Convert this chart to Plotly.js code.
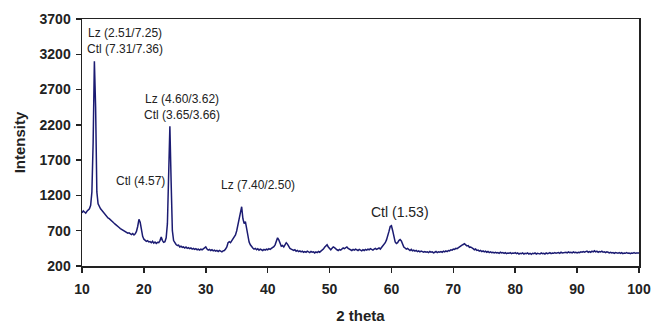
<!DOCTYPE html>
<html>
<head>
<meta charset="utf-8">
<script src="https://cdn.plot.ly/plotly-3.0.1.min.js"></script>
<style>html,body{margin:0;padding:0;background:#fff;}#chart{width:652px;height:331px;}</style>
</head>
<body>
<div id="chart"></div>
<script>
// 2-theta sampling: start and step (degrees)
const twoThetaStart = 10;
const twoThetaStep = 0.2;

// Intensity, one value per 0.2 degree, 10 .. 100
const intensity = [
  955, 980, 965, 950, 975,   990, 1010, 1060, 1250, 1950,      // 10-11.8
  3100, 2450, 1250, 1080, 1040,  1010, 990, 965, 950, 915,     // 12-13.8
  905, 880, 870, 850, 835,   815, 805, 790, 770, 760,          // 14-15.8
  745, 730, 720, 715, 695,   690, 680, 665, 670, 650,          // 16-17.8
  645, 660, 640, 655, 690,   760, 860, 820, 700, 620,          // 18-19.8
  580, 565, 550, 560, 540,   545, 530, 550, 525, 540,          // 20-21.8
  520, 535, 530, 560, 610,   560, 535, 545, 600, 800,          // 22-23.8
  1500, 2180, 1400, 700, 560,  520, 505, 490, 495, 470,        // 24-25.8
  480, 465, 470, 455, 470,   450, 460, 445, 455, 440,          // 26-27.8
  450, 435, 445, 430, 440,   425, 440, 430, 445, 450,          // 28-29.8
  470, 440, 425, 435, 420,   430, 415, 425, 410, 420,          // 30-31.8
  405, 420, 410, 400, 415,   420, 440, 470, 530, 545,          // 32-33.8
  530, 560, 575, 600, 640,   700, 790, 880, 960, 1040,         // 34-35.8
  870, 800, 830, 720, 620,   540, 500, 470, 455, 440,          // 36-37.8
  450, 430, 445, 425, 440,   430, 420, 435, 425, 440,          // 38-39.8
  430, 445, 435, 450, 460,   475, 500, 560, 600, 570,          // 40-41.8
  510, 480, 490, 470, 500,   530, 510, 470, 450, 440,          // 42-43.8
  430, 420, 430, 410, 420,   405, 415, 400, 410, 395,          // 44-45.8
  405, 395, 410, 400, 390,   405, 395, 400, 385, 400,          // 46-47.8
  390, 405, 395, 410, 420,   440, 465, 480, 500, 470,          // 48-49.8
  440, 430, 450, 470, 460,   440, 430, 420, 435, 425,          // 50-51.8
  440, 455, 445, 460, 470,   450, 440, 430, 420, 435,          // 52-53.8
  425, 440, 430, 420, 435,   425, 415, 430, 420, 435,          // 54-55.8
  425, 440, 430, 445, 435,   425, 440, 450, 435, 445,          // 56-57.8
  455, 440, 460, 475, 500,   530, 570, 620, 690, 760,          // 58-59.8
  770, 700, 600, 540, 520,   530, 560, 575, 555, 500,          // 60-61.8
  470, 455, 440, 450, 430,   420, 435, 415, 425, 410,          // 62-63.8
  420, 405, 415, 400, 410,   400, 395, 405, 395, 400,          // 64-65.8
  390, 405, 395, 400, 385,   395, 405, 390, 400, 395,          // 66-67.8
  405, 395, 410, 400, 415,   405, 420, 415, 430, 425,          // 68-69.8
  440, 435, 450, 445, 460,   470, 480, 495, 505, 515,          // 70-71.8
  500, 485, 490, 465, 470,   450, 445, 430, 440, 420,          // 72-73.8
  425, 410, 420, 405, 415,   400, 410, 395, 405, 390,          // 74-75.8
  400, 390, 395, 385, 395,   385, 390, 380, 395, 385,          // 76-77.8
  390, 380, 390, 375, 385,   380, 390, 375, 385, 380,          // 78-79.8
  390, 375, 385, 370, 380,   375, 385, 370, 380, 375,          // 80-81.8
  385, 370, 380, 365, 380,   375, 385, 370, 380, 375,          // 82-83.8
  370, 385, 375, 380, 370,   385, 375, 380, 390, 375,          // 84-85.8
  385, 380, 390, 380, 385,   390, 380, 395, 385, 390,          // 86-87.8
  385, 395, 385, 400, 390,   395, 385, 400, 390, 395,          // 88-89.8
  385, 395, 390, 400, 395,   405, 395, 400, 410, 395,          // 90-91.8
  405, 395, 410, 400, 415,   400, 410, 395, 405, 400,          // 92-93.8
  410, 395, 400, 390, 400,   395, 385, 395, 385, 390,          // 94-95.8
  380, 390, 385, 380, 390,   380, 390, 375, 385, 380,          // 96-97.8
  390, 380, 385, 375, 385,   380, 390, 380, 385, 380,          // 98-99.8
  385                                                          // 100
];

// Peak labels
const peakLabels = ["Lz (2.51/7.25)<br>Ctl (7.31/7.36)", "Lz (4.60/3.62)<br>Ctl (3.65/3.66)", "Ctl (4.57)", "Lz (7.40/2.50)", "Ctl (1.53)"];
const peakLabelX = [10.55, 26.2, 19.5, 38.4, 61.4];
const peakLabelY = [3388, 2453, 1404, 1348, 965];

const xTicks = [10, 20, 30, 40, 50, 60, 70, 80, 90, 100];
const yTicks = [200, 700, 1200, 1700, 2200, 2700, 3200, 3700];

const sans = "Liberation Sans, Arial, sans-serif";

const annXAnchor = ["left", "center", "center", "center", "center"];
const annotations = peakLabels.map((t, i) => ({
  x: peakLabelX[i], y: peakLabelY[i], xref: "x", yref: "y",
  text: t, showarrow: false, xanchor: annXAnchor[i], yanchor: "middle",
  align: "center",
  font: {family: sans, size: i === 4 ? 14 : 12, color: "#222"}
}));

const trace = {
  type: "scatter", mode: "lines",
  x0: twoThetaStart, dx: twoThetaStep, y: intensity,
  line: {color: "#1b1b72", width: 1.5},
  hoverinfo: "skip"
};

const layout = {
  width: 652, height: 331,
  margin: {l: 82, r: 13, t: 19, b: 65},
  paper_bgcolor: "#fff", plot_bgcolor: "#fff",
  showlegend: false,
  font: {family: sans, color: "#222"},
  xaxis: {
    range: [10, 100], tickvals: xTicks, ticktext: xTicks.map(String),
    ticks: "outside", ticklen: 5, tickwidth: 1.5, tickcolor: "#222",
    ticklabelstandoff: 5,
    showline: true, linecolor: "#222", linewidth: 1.5, mirror: true,
    showgrid: false, zeroline: false,
    tickfont: {family: sans, size: 14, color: "#222", weight: "bold"},
    title: {text: "2 theta", font: {family: sans, size: 15, color: "#222", weight: "bold"}, standoff: 14}
  },
  yaxis: {
    range: [200, 3700], tickvals: yTicks, ticktext: yTicks.map(String),
    ticks: "outside", ticklen: 5, tickwidth: 1.5, tickcolor: "#222",
    ticklabelstandoff: 2,
    showline: true, linecolor: "#222", linewidth: 1.5, mirror: true,
    showgrid: false, zeroline: false,
    tickfont: {family: sans, size: 14, color: "#222", weight: "bold"},
    title: {text: "Intensity", font: {family: sans, size: 15, color: "#222", weight: "bold"}, standoff: 10}
  },
  annotations: annotations
};

Plotly.newPlot("chart", [trace], layout, {staticPlot: true, displayModeBar: false});
</script>
</body>
</html>
